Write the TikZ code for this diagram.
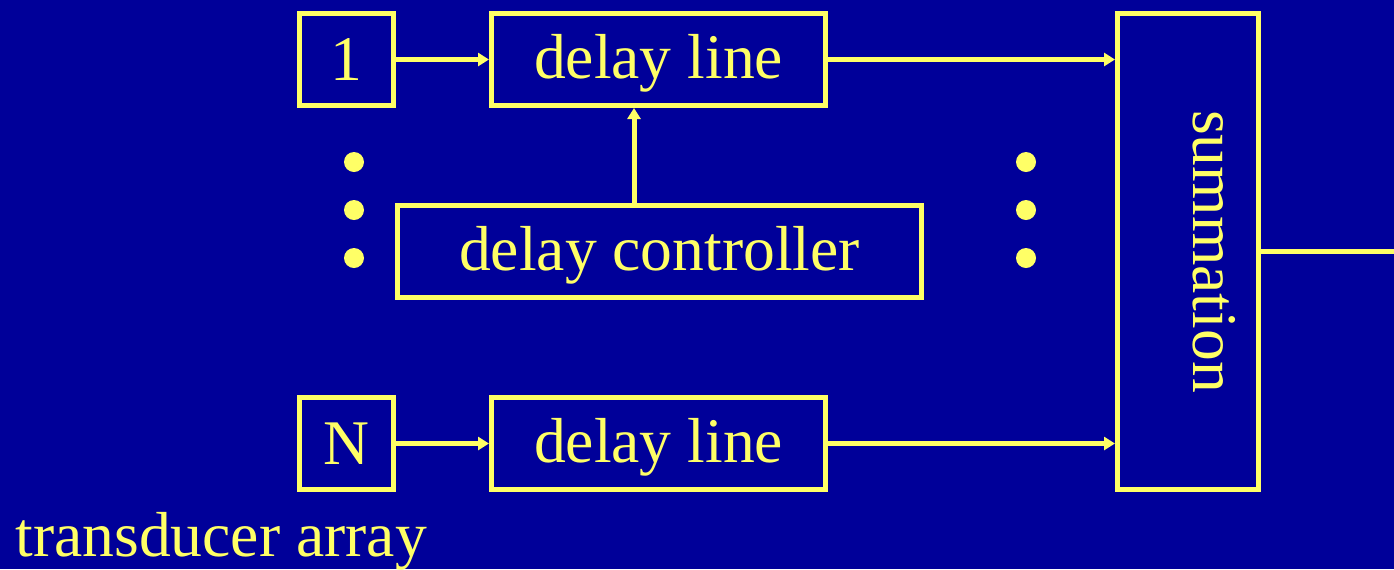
\documentclass[tikz,border=0pt]{standalone}
\usepackage{fontspec}
\setmainfont{Liberation Serif}
\usetikzlibrary{arrows.meta}
\definecolor{bg}{RGB}{0,0,153}
\definecolor{ylw}{RGB}{255,255,102}
\begin{document}
\begin{tikzpicture}[x=0.5pt,y=-0.5pt,
  every node/.style={text=ylw,font=\fontsize{31.8}{38}\selectfont},
  blk/.style={draw=ylw,line width=2.5pt,inner sep=0pt,minimum height=46pt},
  txt/.style={text height=26pt,text depth=7pt},
  arr/.style={draw=ylw,line width=2.5pt,-{Triangle[length=5.5pt,width=6.5pt]}},
  dot/.style={circle,fill=ylw,inner sep=0pt,minimum size=10pt}]
\fill[bg] (0,0) rectangle (1394,569);
\useasboundingbox (0,0) rectangle (1394,569);
\node[blk,minimum width=47pt] (one) at (346.5,59.5) {1};
\node[blk,txt,minimum width=167pt] (dtop) at (658.5,59.5) {delay line};
\node[blk,txt,minimum width=262pt] (ctrl) at (659.5,251.5) {delay controller};
\node[blk,minimum width=47pt] (nbox) at (346.5,443.5) {N};
\node[blk,txt,minimum width=167pt] (dbot) at (658.5,443.5) {delay line};
\node[blk,minimum width=70.5pt,minimum height=238pt] (summ) at (1188,251.5) {};
\node[rotate=-90] (sumtxt) at (1214,251.5) {summation};
\node[anchor=base west,inner sep=0pt] (lbl) at (15,556) {transducer array};
\node[dot] (l1) at (354,162) {};
\node[dot] (l2) at (354,210) {};
\node[dot] (l3) at (354,258) {};
\node[dot] (r1) at (1026,162) {};
\node[dot] (r2) at (1026,210) {};
\node[dot] (r3) at (1026,258) {};
\coordinate (out) at (1394,251.5);
\draw[arr] (one.east) -- (dtop.west);
\draw[arr] (nbox.east) -- (dbot.west);
\draw[arr] (dtop.east) -- (dtop.east -| summ.west);
\draw[arr] (dbot.east) -- (dbot.east -| summ.west);
\draw[arr] ([xshift=-12.75pt]ctrl.north) -- ([xshift=-12.25pt]dtop.south);
\draw[draw=ylw,line width=2.5pt] (summ.east) -- (out);
\end{tikzpicture}
\end{document}
